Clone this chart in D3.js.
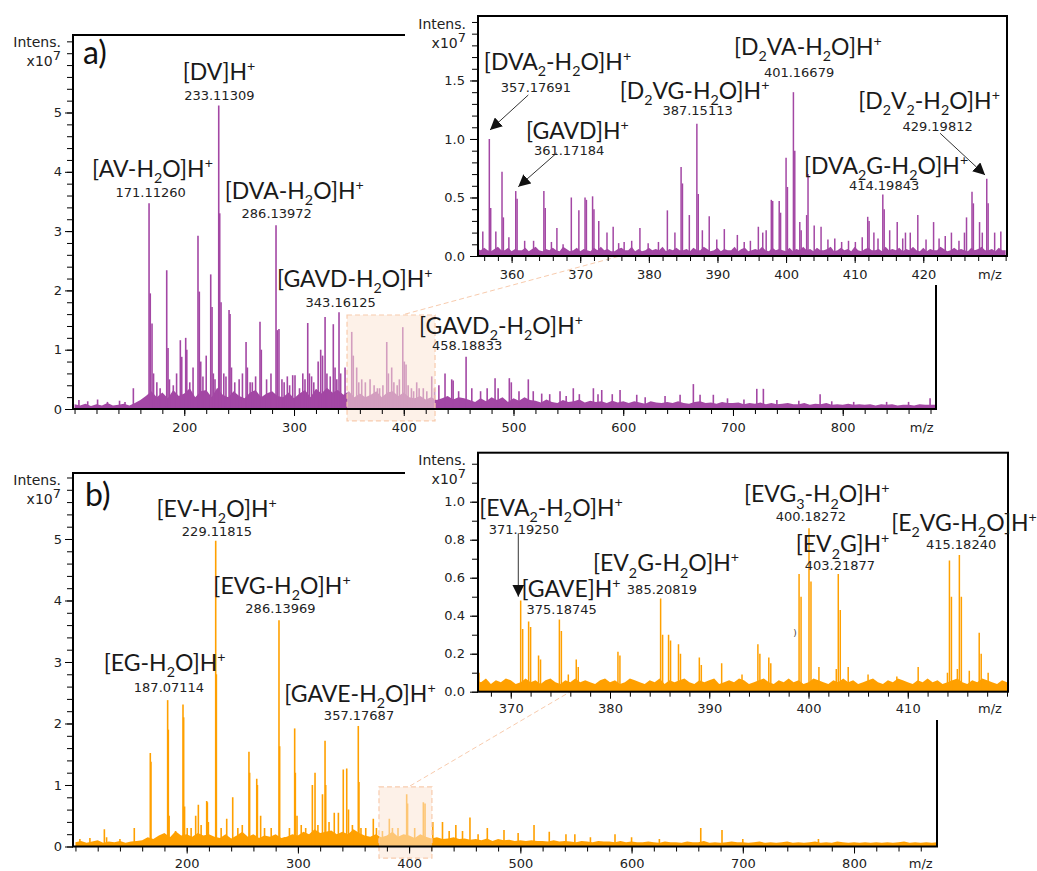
<!DOCTYPE html>
<html><head><meta charset="utf-8">
<script src="https://cdn.jsdelivr.net/npm/d3@7"></script>
<style>body{margin:0;background:#fff}</style></head>
<body><svg id="c" width="1037" height="871"></svg>
<script>
// ---------------- DATA (m/z, intensity x10^7) ----------------
const peaksMainA = [
[104,0.15],[112,0.13],[121,0.16],[130,0.12],[141,0.14],[146,0.12],
[153.6,0.35],[167.9,3.47],[169.0,1.95],[170.6,1.44],[172,0.6],[175,0.45],[178,0.35],[184.0,2.34],[185.2,1.03],
[186.5,0.5],[190,0.4],[193,0.6],[196.4,1.16],[197.7,0.88],[201.3,1.2],[202.3,1.0],[205,0.45],[208,0.7],
[212.5,2.92],[213.7,1.98],[215,0.8],[217,0.55],[220,0.9],[224.1,2.27],[225.3,1.72],[226.5,0.6],[228,0.5],
[231.4,5.12],[232.3,3.3],[233.5,1.8],[236,0.6],[238,0.55],[240.8,1.67],[241.7,1.6],[243,0.7],[246,0.45],
[250,0.5],[253,0.6],[256.3,1.13],[257.5,0.7],[260,0.45],[262,0.45],[265,0.55],[269.0,1.47],[270.2,1.0],
[275,0.5],[279,0.6],[283.6,3.1],[284.8,1.33],[286.3,1.35],[289,0.5],[291,0.45],[293.9,0.55],[296,0.4],
[298.8,0.57],[300.9,0.57],[305,0.35],[308,0.6],[310,0.5],[312.5,1.45],[314,0.6],[316,0.55],[318,0.45],
[322,0.8],[324.3,1.0],[326,0.9],[328.3,1.55],[330,0.6],[333,0.55],[335.8,1.43],[337.4,0.7],[339,0.5],
[341.0,1.63],[342.5,0.6],[346.5,0.7],[352.6,1.3],[354,0.9],[357.1,0.7],[359,0.45],[361.7,0.5],[365,0.45],
[369.3,0.5],[373,0.4],[376,0.35],[378,0.35],[381,0.4],[384.5,1.13],[386,0.6],[389.0,0.7],[391,0.45],[394,0.4],
[396,0.5],[399.1,1.38],[400.5,0.8],[402.1,0.75],[404,0.4],[407,0.35],[409,0.3],[411.8,0.45],[414,0.35],
[417.8,0.35],[421,0.3],[425.5,0.55],[428,0.35],[432,0.4],[437.6,0.6],[443.7,0.5],[445,0.48],[450,0.3],
[456.8,0.88],[462,0.35],[470,0.3],[476,0.35],[483.2,0.52],[486,0.35],[496.2,0.52],[498,0.45],[505,0.3],
[513.5,0.5],[518,0.3],[525.7,0.26],[533,0.25],[542.4,0.3],[548,0.22],[554.5,0.35],[560,0.25],[572.8,0.35],
[577,0.25],[580.4,0.32],[590,0.25],[597.1,0.32],[612.3,0.24],[620,0.2],[638.1,0.22],[651.8,0.24],[663.9,0.42],
[670.0,0.24],[682.1,0.24],[695,0.18],[710,0.16],[721.7,0.34],[727.7,0.34],[740,0.15],[760,0.14],[779.4,0.25],
[790,0.13],[810,0.12],[840,0.12],[860,0.12],[879.6,0.18]
];
const noiseMainA = [
0.08,0.06,0.09,0.05,0.08,0.06,0.1,0.06,0.07,0.09,0.06,0.1,
0.15,0.22,0.3,0.2,0.28,0.18,0.32,0.22,0.26,0.35,0.2,0.3,
0.32,0.2,0.36,0.24,0.2,0.3,0.22,0.18,0.28,0.32,0.2,0.26,
0.3,0.22,0.2,0.28,0.18,0.26,0.32,0.2,0.34,0.26,0.36,0.28,
0.32,0.24,0.3,0.2,0.26,0.2,0.24,0.3,0.2,0.28,0.3,0.22,
0.28,0.2,0.18,0.22,0.16,0.2,0.15,0.18,0.22,0.16,0.2,0.18,
0.15,0.12,0.18,0.13,0.2,0.15,0.2,0.12,0.18,0.14,0.2,0.15,
0.14,0.11,0.16,0.12,0.1,0.15,0.12,0.13,0.16,0.11,0.14,0.12,
0.13,0.1,0.14,0.11,0.13,0.1,0.13,0.11,0.09,0.13,0.11,0.1,
0.12,0.1,0.13,0.1,0.09,0.12,0.13,0.1,0.11,0.09,0.12,0.1,
0.1,0.11,0.08,0.1,0.09,0.11,0.08,0.1,0.08,0.09,0.1,0.08,
0.08,0.1,0.07,0.09,0.08,0.1,0.07,0.08,0.07,0.09,0.07,0.08,
0.07,0.08,0.06,0.08,0.07,0.08,0.06,0.07,0.07,0.06,0.08,0.07,
0.07,0.07
];
const peaksInsetA = [
[355.8,0.21],[356.75,1.0],[356.95,0.41],[357.7,0.21],[358.6,0.72],[358.8,0.33],[359.6,0.16],[360.6,0.555],
[360.8,0.49],[361.9,0.13],[363.2,0.13],[364.7,0.555],[364.9,0.41],[365.8,0.12],[366.6,0.24],[367.5,0.1],
[368.7,0.5],[369.8,0.39],[370.7,0.5],[370.9,0.48],[371.8,0.51],[372.0,0.4],[372.7,0.3],[373.9,0.2],[374.8,0.25],
[375.6,0.11],[376.4,0.12],[377.5,0.13],[378.7,0.24],[379.9,0.11],[381.4,0.12],[382.7,0.39],[383.8,0.2],
[384.7,0.76],[384.9,0.62],[385.9,0.35],[387.0,1.13],[387.2,0.53],[387.8,0.22],[388.8,0.34],[389.9,0.14],
[391.0,0.23],[392.9,0.18],[393.9,0.12],[394.8,0.13],[395.96,0.25],[396.6,0.2],[397.1,0.22],[397.85,0.48],
[398.05,0.47],[399.0,0.47],[399.2,0.37],[400.0,0.84],[400.2,0.59],[401.07,1.4],[401.27,0.9],[402.0,0.29],
[402.2,0.22],[403.0,0.35],[403.2,0.7],[404.1,0.26],[405.1,0.25],[406.1,0.14],[407.1,0.15],[408.1,0.12],
[409.1,0.13],[410.1,0.12],[411.1,0.16],[411.9,0.335],[412.1,0.3],[412.8,0.2],[413.4,0.15],[414.1,0.525],
[414.3,0.4],[415.1,0.22],[416.2,0.29],[417.0,0.15],[417.4,0.2],[418.1,0.2],[419.2,0.35],[420.4,0.14],
[421.5,0.29],[422.3,0.15],[423.2,0.17],[424.1,0.2],[425.2,0.13],[426.0,0.2],[426.3,0.33],[427.1,0.55],
[427.3,0.45],[428.2,0.29],[428.6,0.2],[429.25,0.66],[429.45,0.45],[430.4,0.2],[431.3,0.21]
];
const noiseInsetA = [
0.06,0.05,0.07,0.05,0.04,0.06,0.08,0.05,0.05,0.07,0.04,0.06,0.05,0.05,0.07,0.04,0.06,0.08,0.05,0.04,
0.06,0.05,0.07,0.05,0.04,0.08,0.06,0.04,0.05,0.07,0.04,0.06,0.05,0.04,0.07,0.05,0.08,0.05,0.06,0.04,
0.04,0.06,0.07,0.05,0.05,0.08,0.04,0.06,0.04,0.05,0.07,0.05,0.06,0.05,0.08,0.04,0.06,0.05,0.07,0.05,
0.05,0.06,0.04,0.07,0.05,0.05,0.08,0.06,0.04,0.05,0.07,0.04,0.06,0.05,0.05,0.08,0.04,0.06,0.07,0.04,
0.05,0.06,0.05,0.08,0.05,0.04,0.07,0.05,0.06,0.05,0.04,0.07,0.04,0.06,0.05,0.08,0.05,0.06,0.04,0.07,
0.05,0.05,0.06,0.08,0.04,0.05,0.07,0.05,0.06,0.04,0.08,0.05,0.04,0.06,0.07,0.05,0.05,0.06,0.04,0.08,
0.05,0.06,0.05,0.07,0.04,0.06,0.05,0.08,0.05,0.04,0.07,0.04,0.06,0.05,0.05,0.08,0.06,0.04,0.05,0.07,
0.05,0.06,0.05,0.04,0.07,0.05,0.06,0.08,0.05,0.05,0.06,0.04,0.07,0.05,0.05
];
const peaksMainB = [
[104,0.12],[113,0.14],[126,0.28],[128,0.15],[140,0.12],[152.9,0.3],[167.3,1.52],[167.9,1.38],[182.9,2.38],
[183.5,1.9],[184.2,0.5],[190,0.25],[196.7,2.31],[197.3,2.1],[198.1,0.65],[200.5,0.3],[204,0.3],[208.1,0.5],
[210.5,0.68],[213,0.35],[218.0,0.74],[218.6,0.72],[219.5,0.4],[226.1,4.97],[226.7,2.8],[231,0.3],[236,0.45],
[241.4,0.8],[246,0.3],[250,0.35],[256.0,1.54],[256.6,1.2],[263.0,1.1],[263.6,1.0],[266.5,0.5],[270,0.3],
[276,0.3],[283.0,3.68],[283.6,1.63],[287.9,0.15],[292.4,0.3],[297.1,1.92],[297.7,1.2],[299.2,0.5],[303,0.35],
[307,0.3],[313,1.0],[315.4,1.2],[318.0,0.35],[322.1,0.85],[324.4,1.72],[325.0,1.0],[328,0.4],[332.7,0.55],
[336.4,0.55],[340.8,1.25],[343.9,1.27],[345.5,0.6],[349,0.35],[354.3,1.96],[354.9,1.05],[356.7,0.3],
[361,0.3],[367.8,0.45],[370.6,0.3],[376,0.25],[382.2,0.45],[385,0.3],[390,0.3],[397.8,0.85],[398.6,0.7],
[405,0.3],[412.8,0.72],[414.3,0.7],[421.3,0.4],[430,0.4],[436,0.25],[442,0.35],[448,0.25],[454.7,0.47],
[462,0.2],[470.3,0.3],[485.3,0.27],[498,0.22],[512.3,0.35],[526,0.24],[541,0.2],[549,0.2],[563,0.15],
[585.1,0.2],[600,0.15],[625,0.12],[662.2,0.3],[681.3,0.27],[700,0.12],[768,0.12]
];
const noiseMainB = [
0.07,0.09,0.06,0.08,0.1,0.06,0.08,0.07,0.09,0.06,0.08,0.09,
0.1,0.15,0.12,0.18,0.22,0.15,0.25,0.18,0.2,0.16,0.22,0.18,
0.2,0.16,0.14,0.2,0.13,0.18,0.24,0.16,0.2,0.14,0.18,0.16,
0.2,0.14,0.16,0.2,0.18,0.24,0.2,0.28,0.22,0.24,0.26,0.2,
0.24,0.2,0.28,0.22,0.18,0.16,0.2,0.15,0.18,0.24,0.16,0.2,
0.18,0.14,0.2,0.16,0.13,0.15,0.12,0.13,0.15,0.12,0.13,0.11,
0.12,0.1,0.13,0.09,0.12,0.1,0.11,0.09,0.1,0.09,0.1,0.09,
0.09,0.08,0.1,0.08,0.09,0.08,0.07,0.09,0.08,0.07,0.09,0.08,
0.08,0.07,0.09,0.07,0.08,0.07,0.07,0.08,0.07,0.06,0.08,0.07,
0.07,0.06,0.08,0.07,0.07,0.09,0.06,0.07,0.06,0.07,0.08,0.07,
0.07,0.06,0.07,0.08,0.06,0.07,0.06,0.07,0.08,0.06,0.07,0.06,
0.07,0.08,0.06,0.07,0.06,0.08,0.07,0.06,0.07,0.06,0.07,0.06,
0.07,0.06,0.07,0.06,0.07,0.08,0.06,0.07,0.06,0.07,0.06,0.07
];
const peaksInsetB = [
[366.8,0.1],[371.0,0.48],[371.2,0.33],[371.8,0.37],[372.0,0.34],[372.8,0.19],[373.0,0.17],[374.9,0.38],
[375.1,0.32],[375.8,0.09],[376.6,0.17],[376.8,0.13],[380.8,0.21],[381.0,0.19],[385.1,0.49],[385.3,0.3],
[385.9,0.3],[386.1,0.27],[386.9,0.25],[387.1,0.2],[389.0,0.18],[389.2,0.14],[391.25,0.15],[393.3,0.09],
[394.9,0.25],[395.1,0.2],[396.0,0.18],[396.2,0.15],[399.05,0.62],[399.25,0.5],[400.05,0.86],[400.25,0.58],
[401.05,0.13],[402.8,0.12],[403.0,0.62],[403.2,0.43],[404.0,0.13],[406.0,0.09],[408.9,0.08],[411.05,0.13],
[414.0,0.1],[414.2,0.69],[414.4,0.5],[415.0,0.12],[415.2,0.72],[415.4,0.5],[416.2,0.11],[417.2,0.31],
[417.4,0.2],[418.1,0.1]
];
const noiseInsetB = [
0.06,0.05,0.07,0.04,0.06,0.05,0.07,0.06,0.04,0.05,0.07,0.05,0.06,0.04,0.06,0.07,0.05,0.04,0.06,0.05,
0.07,0.05,0.06,0.05,0.04,0.06,0.07,0.05,0.06,0.04,0.05,0.07,0.06,0.05,0.04,0.06,0.05,0.07,0.04,0.06,
0.05,0.06,0.07,0.05,0.04,0.06,0.05,0.06,0.07,0.04,0.05,0.06,0.05,0.07,0.06,0.04,0.05,0.06,0.07,0.05,
0.04,0.06,0.05,0.07,0.05,0.06,0.04,0.05,0.07,0.06,0.05,0.04,0.06,0.05,0.07,0.05,0.06,0.04,0.05,0.06,
0.07,0.05,0.04,0.06,0.05,0.07,0.06,0.05,0.04,0.06,0.05,0.07,0.05,0.06,0.04,0.05,0.06,0.07,0.05,0.04,
0.06,0.05,0.07,0.06,0.05,0.04,0.06,0.05
];
// tick labels
const xTicksMain = [200,300,400,500,600,700,800];
const yTicksMain = [0,1,2,3,4,5];
const xTicksInsetA = [360,370,380,390,400,410,420];
const yTicksInsetA = [0,0.5,1.0,1.5];
const xTicksInsetB = [370,380,390,400,410];
const yTicksInsetB = [0,0.2,0.4,0.6,0.8,1.0];
// annotations: name, measured mass, anchors in (m/z, intensity) of each panel
const annotMainA = [
 {name:"[AV-H_2O]H^+", mass:"171.11260", at:[171.05,3.912], massAt:[169.4,3.575]},
 {name:"[DV]H^+", mass:"233.11309", at:[231.65,5.548], massAt:[231.93,5.211]},
 {name:"[DVA-H_2O]H^+", mass:"286.13972", at:[300.27,3.541], massAt:[284.24,3.221]},
 {name:"[GAVD-H_2O]H^+", mass:"343.16125", at:[355.32,2.057], massAt:[342.56,1.72]},
 {name:"[GAVD_2-H_2O]H^+", mass:"458.18833", at:[488.65,1.265], massAt:[457.67,0.995]}
];
const annotInsetA = [
 {name:"[DVA_2-H_2O]H^+", mass:"357.17691", at:[366.69,1.59], massAt:[363.55,1.402]},
 {name:"[GAVD]H^+", mass:"361.17184", at:[369.6,1.0], massAt:[368.37,0.863]},
 {name:"[D_2VG-H_2O]H^+", mass:"387.15113", at:[386.66,1.342], massAt:[387.1,1.205]},
 {name:"[D_2VA-H_2O]H^+", mass:"401.16679", at:[403.18,1.718], massAt:[401.89,1.53]},
 {name:"[D_2V_2-H_2O]H^+", mass:"429.19812", at:[420.84,1.256], massAt:[422.08,1.068]},
 {name:"[DVA_2G-H_2O]H^+", mass:"414.19843", at:[414.58,0.701], massAt:[414.28,0.564]}
];
const arrowsInsetA = [
 {from:[362.43,1.376], to:[356.85,1.077]},
 {from:[366.57,0.88], to:[360.97,0.592]},
 {from:[422.45,1.049], to:[429.0,0.692]}
];
const annotMainB = [
 {name:"[EV-H_2O]H^+", mass:"229.11815", at:[227.0,5.358], massAt:[227.27,5.049]},
 {name:"[EVG-H_2O]H^+", mass:"286.13969", at:[285.72,4.106], massAt:[284.37,3.797]},
 {name:"[EG-H_2O]H^+", mass:"187.07114", at:[180.25,2.854], massAt:[184.11,2.512]},
 {name:"[GAVE-H_2O]H^+", mass:"357.17687", at:[355.85,2.35], massAt:[354.95,2.057]}
];
const annotInsetB = [
 {name:"[EVA_2-H_2O]H^+", mass:"371.19250", at:[374.06,0.925], massAt:[371.33,0.83]},
 {name:"[GAVE]H^+", mass:"375.18745", at:[376.07,0.498], massAt:[375.13,0.409]},
 {name:"[EV_2G-H_2O]H^+", mass:"385.20819", at:[385.64,0.635], massAt:[385.24,0.514]},
 {name:"[EVG_3-H_2O]H^+", mass:"400.18272", at:[400.83,0.998], massAt:[400.23,0.898]},
 {name:"[EV_2G]H^+", mass:"403.21877", at:[403.43,0.735], massAt:[403.17,0.641]},
 {name:"[E_2VG-H_2O]H^+", mass:"415.18240", at:[415.67,0.846], massAt:[415.37,0.751]}
];
const arrowsInsetB = [ {from:[370.76,0.834], to:[370.76,0.5]} ];

// ---------------- LAYOUT ----------------
const NUM_FONT = "'DejaVu Sans', Verdana, sans-serif";
const LBL_FONT = "Lato, 'Open Sans', sans-serif";
const PURPLE = "#a347a4", ORANGE = "#ffa000";
const L = {
 a:  {xr:[73,936],  yr:[409,35],      xd:[98.6,885],   yd:[0,6.307]},
 ai: {xr:[478,1007],yr:[256,16],      xd:[355.1,432.2],yd:[0,2.051]},
 b:  {xr:[73,937],  yr:[846.5,473],   xd:[97.8,874.6], yd:[0,6.073]},
 bi: {xr:[478,1008],yr:[691.7,452.7], xd:[366.7,420.1],yd:[0,1.258]}
};
const svg = d3.select("#c");
const defs = svg.append("defs");
defs.append("marker").attr("id","ah").attr("markerUnits","userSpaceOnUse")
  .attr("markerWidth",14).attr("markerHeight",12).attr("refX",12).attr("refY",6)
  .attr("orient","auto").append("path").attr("d","M0,0 L12,6 L0,12 Z").attr("fill","#111");

function scales(k){
  const c = L[k];
  return {x: d3.scaleLinear().domain(c.xd).range(c.xr), y: d3.scaleLinear().domain(c.yd).range(c.yr)};
}
let clipN = 0;
function spectrum(g, s, peaks, noise, n0, step, color, sw){
  const id = "clip"+(clipN++);
  const [x0,x1] = s.x.range(), [y0,y1] = s.y.range();
  defs.append("clipPath").attr("id",id).append("rect").attr("x",x0).attr("y",y1).attr("width",x1-x0).attr("height",y0-y1);
  const gg = g.append("g").attr("clip-path",`url(#${id})`);
  const pts = noise.map((v,i)=>[n0+i*step, v]);
  gg.append("path").datum(pts)
    .attr("d", d3.area().x(d=>s.x(d[0])).y0(s.y(0)).y1(d=>s.y(d[1])))
    .attr("fill", color);
  gg.selectAll("line.pk").data(peaks).join("line").attr("class","pk")
    .attr("x1",d=>s.x(d[0])).attr("x2",d=>s.x(d[0]))
    .attr("y1",s.y(0)).attr("y2",d=>s.y(d[1]))
    .attr("stroke",color).attr("stroke-width",sw);
}
function axes(g, s, cfg){
  const base = s.y.range()[0], left = s.x.range()[0];
  const ax = g.append("g").attr("transform",`translate(0,${base})`);
  ax.append("g").call(d3.axisBottom(s.x).tickValues(cfg.xMinor).tickSize(5).tickFormat(""));
  const axm = ax.append("g").call(d3.axisBottom(s.x).tickValues(cfg.xMajor).tickSize(7).tickFormat(d3.format("d")));
  ax.selectAll(".domain").remove();
  axm.selectAll("text").attr("y",cfg.xOff).attr("dy",0)
    .attr("font-family",NUM_FONT).attr("font-size",13).attr("fill","#222");
  g.append("text").attr("x",cfg.mz[0]).attr("y",base+cfg.xOff).attr("text-anchor","middle")
    .attr("font-family",NUM_FONT).attr("font-size",13).attr("fill","#222").text("m/z");
  const ay = g.append("g").attr("transform",`translate(${left},0)`);
  ay.append("g").call(d3.axisLeft(s.y).tickValues(cfg.yMinor).tickSize(6).tickFormat(""));
  const aym = ay.append("g").call(d3.axisLeft(s.y).tickValues(cfg.yMajor).tickSize(8).tickPadding(cfg.yPad).tickFormat(cfg.yFmt));
  ay.selectAll(".domain").remove();
  aym.selectAll("text").attr("font-family",NUM_FONT).attr("font-size",13).attr("fill","#222");
  g.append("text").attr("x",cfg.int[0]).attr("y",cfg.int[1]).attr("text-anchor","end")
    .attr("font-family",NUM_FONT).attr("font-size",14).attr("fill","#222").text("Intens.");
  const t2 = g.append("text").attr("x",cfg.int[0]).attr("y",cfg.int[1]+19).attr("text-anchor","end")
    .attr("font-family",NUM_FONT).attr("font-size",14).attr("fill","#222");
  t2.append("tspan").text("x10");
  t2.append("tspan").attr("dy",-6).attr("font-size",13).text("7");
}
function parseRich(str){
  const parts=[]; let i=0;
  while(i<str.length){
    const c=str[i];
    if(c==="_"){parts.push({t:str[i+1],k:"sub"}); i+=2;}
    else if(c==="^"){parts.push({t:str[i+1],k:"sup"}); i+=2;}
    else {let s=""; while(i<str.length && str[i]!=="_" && str[i]!=="^"){s+=str[i]; i++;} parts.push({t:s,k:"n"});}
  }
  return parts;
}
function rich(g, str, x, y, size){
  const t = g.append("text").attr("x",x).attr("y",y).attr("text-anchor","middle")
    .attr("font-family",LBL_FONT).attr("font-size",size).attr("fill","#1a1a1a");
  let shift = 0;
  parseRich(str).forEach(p=>{
    const target = p.k==="sub" ? size*0.28 : p.k==="sup" ? -size*0.38 : 0;
    const ts = t.append("tspan").attr("dy", target-shift).text(p.t);
    if(p.k!=="n") ts.attr("font-size", size*0.62);
    shift = target;
  });
  return t;
}
function annotate(g, s, list){
  list.forEach(a=>{
    rich(g, a.name, s.x(a.at[0]), s.y(a.at[1]), 23);
    g.append("text").attr("x",s.x(a.massAt[0])).attr("y",s.y(a.massAt[1])).attr("text-anchor","middle")
      .attr("font-family",NUM_FONT).attr("font-size",13).attr("fill","#222").text(a.mass);
  });
}
function arrows(g, s, list){
  list.forEach(a=>{
    g.append("line").attr("x1",s.x(a.from[0])).attr("y1",s.y(a.from[1]))
      .attr("x2",s.x(a.to[0])).attr("y2",s.y(a.to[1]))
      .attr("stroke","#333").attr("stroke-width",1).attr("marker-end","url(#ah)");
  });
}
function mainFrame(g, s, cutX, topFromInset){
  const [x0,x1]=s.x.range(), [yb,yt]=s.y.range();
  g.append("path").attr("d",`M${cutX},${yt}H${x0}V${yb}H${x1}V${topFromInset}`)
    .attr("fill","none").attr("stroke","#000").attr("stroke-width",2);
}
function insetFrame(g, s){
  const [x0,x1]=s.x.range(), [yb,yt]=s.y.range();
  g.append("rect").attr("x",x0).attr("y",yt).attr("width",x1-x0).attr("height",yb-yt)
    .attr("fill","none").attr("stroke","#000").attr("stroke-width",2);
}
function highlight(g, sMain, box){
  g.append("rect").attr("x",sMain.x(box[0])).attr("y",sMain.y(box[3]))
    .attr("width",sMain.x(box[1])-sMain.x(box[0])).attr("height",sMain.y(box[2])-sMain.y(box[3]))
    .attr("fill","#fbe5d6").attr("fill-opacity",0.55)
    .attr("stroke","#f8cbad").attr("stroke-width",1.2).attr("stroke-dasharray","5,3");
}

const sA = scales("a"), sAi = scales("ai"), sB = scales("b"), sBi = scales("bi");
// ---------------- PANEL a ----------------
const gA = svg.append("g");
spectrum(gA, sA, peaksMainA, noiseMainA, 100, 5, PURPLE, 1.6);
highlight(gA, sA, [348.3,428.5,-0.2,1.585]);
mainFrame(gA, sA, 405, 285);
axes(gA, sA, {xMajor:xTicksMain, xMinor:d3.range(100,885,20), xOff:23, mz:[921.7],
  yMajor:yTicksMain, yMinor:d3.range(0,6.25,0.2), yPad:3, yFmt:d3.format("d"), int:[61,47]});
gA.append("text").attr("x",83).attr("y",64).attr("font-family",LBL_FONT).attr("font-size",32).attr("fill","#111").text("a)");

const gAi = svg.append("g");
gAi.append("rect").attr("x",405).attr("y",0).attr("width",620).attr("height",283).attr("fill","#fff");
gAi.append("line").attr("x1",sA.x(401.2)).attr("y1",sA.y(1.6)).attr("x2",sAi.x(375.8)).attr("y2",sAi.y(0))
  .attr("stroke","#f8cbad").attr("stroke-width",1).attr("stroke-dasharray","5,3");
spectrum(gAi, sAi, peaksInsetA, noiseInsetA, 355, 0.5, PURPLE, 1.5);
insetFrame(gAi, sAi);
axes(gAi, sAi, {xMajor:xTicksInsetA, xMinor:d3.range(356,433,2), xOff:23, mz:[990],
  yMajor:yTicksInsetA, yMinor:d3.range(0,2.05,0.1), yPad:5, yFmt:d3.format(".1f"), int:[466,29]});

// ---------------- PANEL b ----------------
const gB = svg.append("g");
spectrum(gB, sB, peaksMainB, noiseMainB, 100, 5, ORANGE, 1.6);
highlight(gB, sB, [372.9,420.5,-0.19,0.968]);
mainFrame(gB, sB, 405, 720);
axes(gB, sB, {xMajor:xTicksMain, xMinor:d3.range(100,875,20), xOff:21.5, mz:[920.7],
  yMajor:yTicksMain, yMinor:d3.range(0,6.05,0.2), yPad:3, yFmt:d3.format("d"), int:[61,485]});
gB.append("text").attr("x",85).attr("y",506).attr("font-family",LBL_FONT).attr("font-size",32).attr("fill","#111").text("b)");

const gBi = svg.append("g");
gBi.append("rect").attr("x",405).attr("y",440).attr("width",620).attr("height",280).attr("fill","#fff");
gBi.append("line").attr("x1",sB.x(400.8)).attr("y1",sB.y(0.984)).attr("x2",sBi.x(376.0)).attr("y2",sBi.y(0))
  .attr("stroke","#f8cbad").attr("stroke-width",1).attr("stroke-dasharray","5,3");
spectrum(gBi, sBi, peaksInsetB, noiseInsetB, 366.5, 0.5, ORANGE, 1.5);
insetFrame(gBi, sBi);
axes(gBi, sBi, {xMajor:xTicksInsetB, xMinor:d3.range(368,421,2), xOff:21.3, mz:[990],
  yMajor:yTicksInsetB, yMinor:d3.range(0,1.25,0.1), yPad:5, yFmt:d3.format(".1f"), int:[466,465]});

// ---------------- ANNOTATIONS ----------------
const gT = svg.append("g");
annotate(gT, sA, annotMainA);
annotate(gT, sAi, annotInsetA);
arrows(gT, sAi, arrowsInsetA);
annotate(gT, sB, annotMainB);
annotate(gT, sBi, annotInsetB);
arrows(gT, sBi, arrowsInsetB);
gT.append("text").attr("x",sBi.x(398.64)).attr("y",sBi.y(0.293)).attr("text-anchor","middle")
  .attr("font-family",NUM_FONT).attr("font-size",9).attr("fill","#444").text(")");
</script></body></html>
